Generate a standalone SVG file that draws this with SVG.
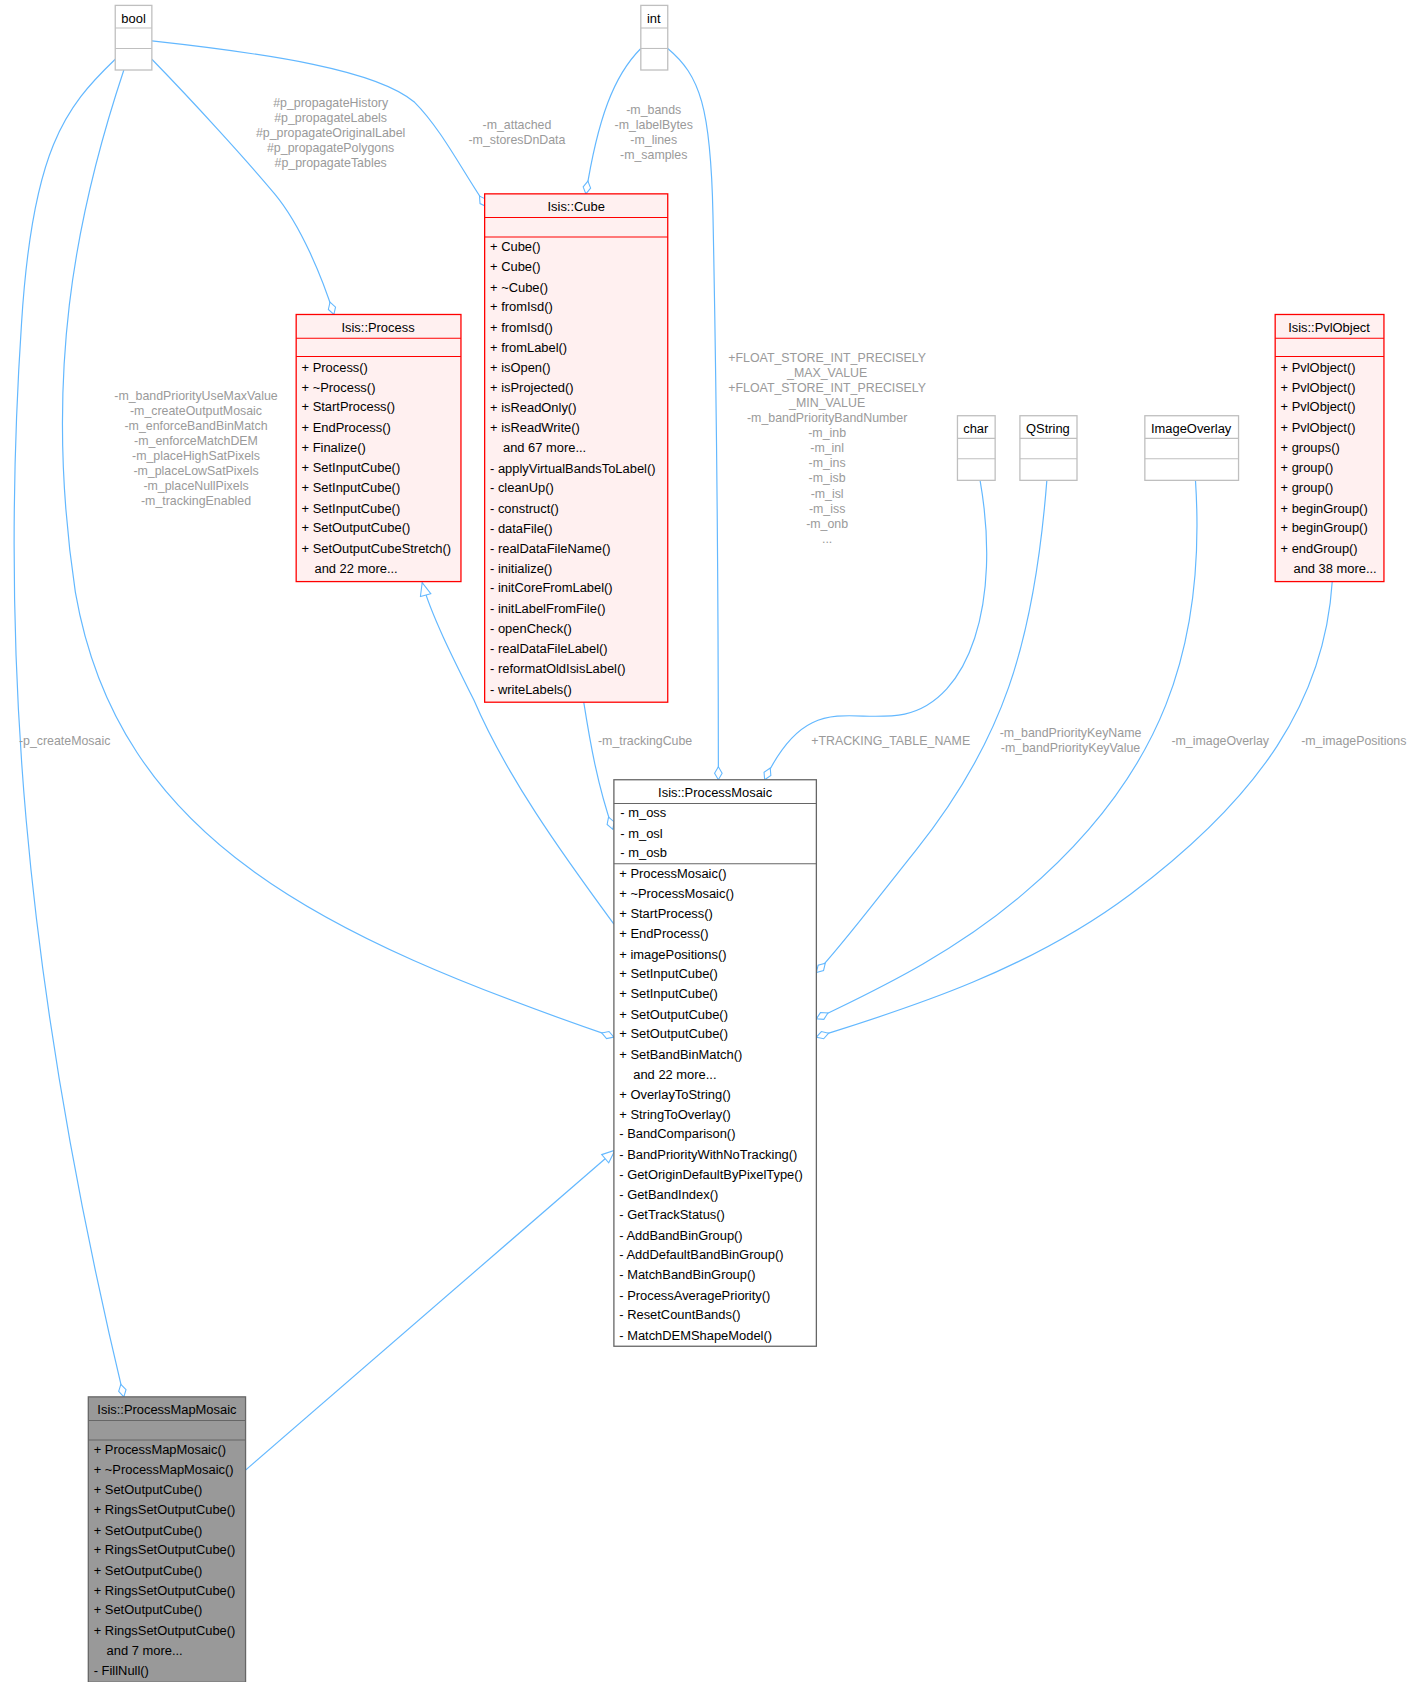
<svg xmlns="http://www.w3.org/2000/svg" width="1411" height="1682" viewBox="0 0 1411 1682">
<style>
text{font-family:"Liberation Sans",Arial,sans-serif;font-size:12px;fill:#000}
.t{text-anchor:middle}
.l{font-size:11.5px;fill:#9a9a9a;text-anchor:middle}
.red{fill:#fff0f0;stroke:#ff0000;stroke-width:1.2}
.plain{fill:#fff;stroke:#bfbfbf;stroke-width:1.2}
.pm{fill:#fff;stroke:#666;stroke-width:1.2}
.grey{fill:#999;stroke:#666;stroke-width:1.2}
.e{fill:none;stroke:#63b8ff;stroke-width:1.1}
.ag{marker-end:url(#dia)}
.in{marker-end:url(#tri)}
</style>
<defs>
<marker id="dia" markerUnits="userSpaceOnUse" markerWidth="14" markerHeight="10" refX="13" refY="5" orient="auto" viewBox="0 0 14 10"><path d="M1,5 L7,1.5 L13,5 L7,8.5 Z" fill="#fff" stroke="#63b8ff"/></marker>
<marker id="tri" markerUnits="userSpaceOnUse" markerWidth="14" markerHeight="12" refX="13" refY="6" orient="auto" viewBox="0 0 14 12"><path d="M1,1 L13,6 L1,11 Z" fill="#fff" stroke="#63b8ff"/></marker>
</defs>
<rect width="1411" height="1682" fill="#fff"/>
<g transform="scale(1.077)">
<g id="edges">
<path class="e ag" d="M107,55 C60,100 30,140 20,300 C0,600 20,900 115,1297"/>
<text class="l" x="60" y="692">-p_createMosaic</text>
<path class="e ag" d="M115,65 C70,200 40,350 70,550 C110,780 300,870 570,963"/>
<text class="l" x="182" y="371">-m_bandPriorityUseMaxValue</text><text class="l" x="182" y="385">-m_createOutputMosaic</text><text class="l" x="182" y="399">-m_enforceBandBinMatch</text><text class="l" x="182" y="413">-m_enforceMatchDEM</text><text class="l" x="182" y="427">-m_placeHighSatPixels</text><text class="l" x="182" y="441">-m_placeLowSatPixels</text><text class="l" x="182" y="455">-m_placeNullPixels</text><text class="l" x="182" y="469">-m_trackingEnabled</text>
<path class="e ag" d="M141,55 C180,95 230,150 255,180 C280,210 300,260 310,292"/>
<text class="l" x="307" y="99">#p_propagateHistory</text><text class="l" x="307" y="113">#p_propagateLabels</text><text class="l" x="307" y="127">#p_propagateOriginalLabel</text><text class="l" x="307" y="141">#p_propagatePolygons</text><text class="l" x="307" y="155">#p_propagateTables</text>
<path class="e ag" d="M141,38 C250,50 350,65 385,95 C410,120 430,160 452,192"/>
<text class="l" x="480" y="120">-m_attached</text><text class="l" x="480" y="134">-m_storesDnData</text>
<path class="e ag" d="M595,45 C570,70 555,110 544,180"/>
<text class="l" x="607" y="106">-m_bands</text><text class="l" x="607" y="120">-m_labelBytes</text><text class="l" x="607" y="134">-m_lines</text><text class="l" x="607" y="148">-m_samples</text>
<path class="e ag" d="M620,45 C650,70 660,100 662,200 C666,400 667,600 667,724"/>
<text class="l" x="768" y="336">+FLOAT_STORE_INT_PRECISELY</text><text class="l" x="768" y="350">_MAX_VALUE</text><text class="l" x="768" y="364">+FLOAT_STORE_INT_PRECISELY</text><text class="l" x="768" y="378">_MIN_VALUE</text><text class="l" x="768" y="392">-m_bandPriorityBandNumber</text><text class="l" x="768" y="406">-m_inb</text><text class="l" x="768" y="420">-m_inl</text><text class="l" x="768" y="434">-m_ins</text><text class="l" x="768" y="448">-m_isb</text><text class="l" x="768" y="462">-m_isl</text><text class="l" x="768" y="476">-m_iss</text><text class="l" x="768" y="490">-m_onb</text><text class="l" x="768" y="504">...</text>
<path class="e in" d="M570,858 C520,790 470,720 440,650 C420,610 400,570 392,541"/>
<path class="e ag" d="M542,652 C548,690 555,730 569,770"/>
<text class="l" x="599" y="692">-m_trackingCube</text>
<path class="e ag" d="M910,446 C930,560 900,650 840,663 C790,673 750,640 710,724"/>
<text class="l" x="827" y="692">+TRACKING_TABLE_NAME</text>
<path class="e ag" d="M972,446 C960,600 930,690 850,790 C810,840 780,880 758,903"/>
<text class="l" x="994" y="684">-m_bandPriorityKeyName</text><text class="l" x="994" y="698">-m_bandPriorityKeyValue</text>
<path class="e ag" d="M1110,446 C1120,600 1080,720 950,830 C880,890 800,925 758,946"/>
<text class="l" x="1133" y="692">-m_imageOverlay</text>
<path class="e ag" d="M1237,540 C1230,650 1170,740 1050,830 C950,905 830,940 758,963"/>
<text class="l" x="1257" y="692">-m_imagePositions</text>
<path class="e in" d="M228,1365 L571,1068"/>
</g>
<g id="bool"><rect class="plain" x="107" y="5" width="34" height="60"/><line x1="107" y1="26" x2="141" y2="26" stroke="#bfbfbf"/><line x1="107" y1="45" x2="141" y2="45" stroke="#bfbfbf"/><text class="t" x="124" y="21">bool</text></g>
<g id="int"><rect class="plain" x="595" y="5" width="25" height="60"/><line x1="595" y1="26" x2="620" y2="26" stroke="#bfbfbf"/><line x1="595" y1="45" x2="620" y2="45" stroke="#bfbfbf"/><text class="t" x="607" y="21">int</text></g>
<g id="char"><rect class="plain" x="889" y="386" width="35" height="60"/><line x1="889" y1="407" x2="924" y2="407" stroke="#bfbfbf"/><line x1="889" y1="426" x2="924" y2="426" stroke="#bfbfbf"/><text class="t" x="906" y="402">char</text></g>
<g id="QString"><rect class="plain" x="947" y="386" width="53" height="60"/><line x1="947" y1="407" x2="1000" y2="407" stroke="#bfbfbf"/><line x1="947" y1="426" x2="1000" y2="426" stroke="#bfbfbf"/><text class="t" x="973" y="402">QString</text></g>
<g id="ImageOverlay"><rect class="plain" x="1063" y="386" width="87" height="60"/><line x1="1063" y1="407" x2="1150" y2="407" stroke="#bfbfbf"/><line x1="1063" y1="426" x2="1150" y2="426" stroke="#bfbfbf"/><text class="t" x="1106" y="402">ImageOverlay</text></g>
<g id="Process"><rect class="red" x="275" y="292" width="153" height="248"/><line x1="275" y1="314" x2="428" y2="314" stroke="#f00"/><line x1="275" y1="331" x2="428" y2="331" stroke="#f00"/><text class="t" x="351" y="308">Isis::Process</text>
<text x="280" y="345">+ Process()</text><text x="280" y="364">+ ~Process()</text><text x="280" y="382">+ StartProcess()</text><text x="280" y="401">+ EndProcess()</text><text x="280" y="420">+ Finalize()</text><text x="280" y="438">+ SetInputCube()</text><text x="280" y="457">+ SetInputCube()</text><text x="280" y="476">+ SetInputCube()</text><text x="280" y="494">+ SetOutputCube()</text><text x="280" y="513">+ SetOutputCubeStretch()</text><text x="292" y="532">and 22 more...</text></g>
<g id="Cube"><rect class="red" x="450" y="180" width="170" height="472"/><line x1="450" y1="202" x2="620" y2="202" stroke="#f00"/><line x1="450" y1="220" x2="620" y2="220" stroke="#f00"/><text class="t" x="535" y="196">Isis::Cube</text>
<text x="455" y="233">+ Cube()</text><text x="455" y="252">+ Cube()</text><text x="455" y="271">+ ~Cube()</text><text x="455" y="289">+ fromIsd()</text><text x="455" y="308">+ fromIsd()</text><text x="455" y="327">+ fromLabel()</text><text x="455" y="345">+ isOpen()</text><text x="455" y="364">+ isProjected()</text><text x="455" y="383">+ isReadOnly()</text><text x="455" y="401">+ isReadWrite()</text><text x="467" y="420">and 67 more...</text><text x="455" y="439">-  applyVirtualBandsToLabel()</text><text x="455" y="457">-  cleanUp()</text><text x="455" y="476">-  construct()</text><text x="455" y="495">-  dataFile()</text><text x="455" y="513">-  realDataFileName()</text><text x="455" y="532">-  initialize()</text><text x="455" y="550">-  initCoreFromLabel()</text><text x="455" y="569">-  initLabelFromFile()</text><text x="455" y="588">-  openCheck()</text><text x="455" y="606">-  realDataFileLabel()</text><text x="455" y="625">-  reformatOldIsisLabel()</text><text x="455" y="644">-  writeLabels()</text></g>
<g id="PvlObject"><rect class="red" x="1184" y="292" width="101" height="248"/><line x1="1184" y1="314" x2="1285" y2="314" stroke="#f00"/><line x1="1184" y1="331" x2="1285" y2="331" stroke="#f00"/><text class="t" x="1234" y="308">Isis::PvlObject</text>
<text x="1189" y="345">+ PvlObject()</text><text x="1189" y="364">+ PvlObject()</text><text x="1189" y="382">+ PvlObject()</text><text x="1189" y="401">+ PvlObject()</text><text x="1189" y="420">+ groups()</text><text x="1189" y="438">+ group()</text><text x="1189" y="457">+ group()</text><text x="1189" y="476">+ beginGroup()</text><text x="1189" y="494">+ beginGroup()</text><text x="1189" y="513">+ endGroup()</text><text x="1201" y="532">and 38 more...</text></g>
<g id="ProcessMosaic"><rect class="pm" x="570" y="724" width="188" height="526"/><line x1="570" y1="746" x2="758" y2="746" stroke="#666"/><line x1="570" y1="802" x2="758" y2="802" stroke="#666"/><text class="t" x="664" y="740">Isis::ProcessMosaic</text>
<text x="576" y="759">-  m_oss</text><text x="576" y="778">-  m_osl</text><text x="576" y="796">-  m_osb</text>
<text x="575" y="815">+ ProcessMosaic()</text><text x="575" y="834">+ ~ProcessMosaic()</text><text x="575" y="852">+ StartProcess()</text><text x="575" y="871">+ EndProcess()</text><text x="575" y="890">+ imagePositions()</text><text x="575" y="908">+ SetInputCube()</text><text x="575" y="927">+ SetInputCube()</text><text x="575" y="946">+ SetOutputCube()</text><text x="575" y="964">+ SetOutputCube()</text><text x="575" y="983">+ SetBandBinMatch()</text><text x="588" y="1002">and 22 more...</text><text x="575" y="1020">+ OverlayToString()</text><text x="575" y="1039">+ StringToOverlay()</text><text x="575" y="1057">-  BandComparison()</text><text x="575" y="1076">-  BandPriorityWithNoTracking()</text><text x="575" y="1095">-  GetOriginDefaultByPixelType()</text><text x="575" y="1113">-  GetBandIndex()</text><text x="575" y="1132">-  GetTrackStatus()</text><text x="575" y="1151">-  AddBandBinGroup()</text><text x="575" y="1169">-  AddDefaultBandBinGroup()</text><text x="575" y="1188">-  MatchBandBinGroup()</text><text x="575" y="1207">-  ProcessAveragePriority()</text><text x="575" y="1225">-  ResetCountBands()</text><text x="575" y="1244">-  MatchDEMShapeModel()</text></g>
<g id="ProcessMapMosaic"><rect class="grey" x="82" y="1297" width="146" height="265"/><line x1="82" y1="1319" x2="228" y2="1319" stroke="#666"/><line x1="82" y1="1337" x2="228" y2="1337" stroke="#666"/><text class="t" x="155" y="1313">Isis::ProcessMapMosaic</text>
<text x="87" y="1350">+ ProcessMapMosaic()</text><text x="87" y="1369">+ ~ProcessMapMosaic()</text><text x="87" y="1387">+ SetOutputCube()</text><text x="87" y="1406">+ RingsSetOutputCube()</text><text x="87" y="1425">+ SetOutputCube()</text><text x="87" y="1443">+ RingsSetOutputCube()</text><text x="87" y="1462">+ SetOutputCube()</text><text x="87" y="1481">+ RingsSetOutputCube()</text><text x="87" y="1499">+ SetOutputCube()</text><text x="87" y="1518">+ RingsSetOutputCube()</text><text x="99" y="1537">and 7 more...</text><text x="87" y="1555">-  FillNull()</text></g>
</g>
</svg>
